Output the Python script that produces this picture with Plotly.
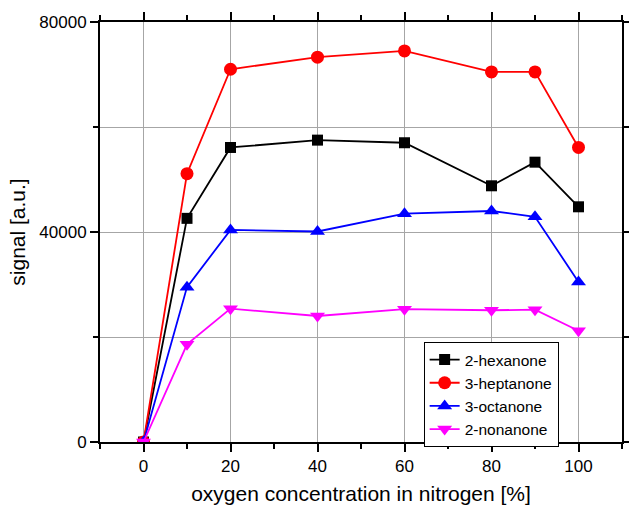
import plotly.graph_objects as go

x = [0, 10, 20, 40, 60, 80, 90, 100]
hexanone = [0, 42600, 56100, 57500, 57000, 48800, 53300, 44800]
heptanone = [0, 51100, 71000, 73300, 74500, 70500, 70500, 56100]
octanone = [0, 29500, 40400, 40100, 43500, 44000, 42900, 30500]
nonanone = [0, 18600, 25400, 24000, 25300, 25100, 25200, 21200]
x_ticks = [0, 20, 40, 60, 80, 100]
y_ticks = [0, 40000, 80000]
y_tick_labels = ["0", "40000", "80000"]

series = [
    ("2-hexanone", hexanone, "black", "square", 11),
    ("3-heptanone", heptanone, "red", "circle", 13),
    ("3-octanone", octanone, "blue", "triangle-up", 13),
    ("2-nonanone", nonanone, "magenta", "triangle-down", 13),
]

FONT = "Liberation Sans, Arial"

fig = go.Figure()
for name, vals, col, sym, sz in series:
    fig.add_trace(go.Scatter(
        x=x, y=vals, name=name, mode="lines+markers",
        line=dict(color=col, width=1.8),
        marker=dict(symbol=sym, size=sz, color=col),
    ))

axis_common = dict(
    showline=True, linecolor="black", linewidth=2, mirror="ticks",
    ticks="outside", ticklen=8, tickwidth=1.5, tickcolor="black",
    gridcolor="#a6a6a6", gridwidth=1, zeroline=False, automargin=False,
    tickfont=dict(family=FONT, size=17, color="black"),
)

fig.update_xaxes(
    range=[-10, 110], tickvals=x_ticks, showgrid=True,
    minor=dict(dtick=10, tick0=0, ticks="outside", ticklen=5, tickcolor="black", tickwidth=1.5, showgrid=False),
    title=dict(text="oxygen concentration in nitrogen [%]",
               font=dict(family=FONT, size=21, color="black"), standoff=12),
    **axis_common,
)
fig.update_yaxes(
    range=[0, 80000], tickvals=y_ticks, ticktext=y_tick_labels, showgrid=True,
    minor=dict(dtick=20000, tick0=0, ticks="outside", ticklen=5, tickcolor="black", tickwidth=1.5,
               showgrid=True, gridcolor="#a6a6a6", gridwidth=1),
    title=dict(text="signal [a.u.]",
               font=dict(family=FONT, size=21, color="black"), standoff=8),
    **axis_common,
)

fig.update_layout(
    width=629, height=505,
    margin=dict(l=100, r=7, t=22, b=63, autoexpand=False),
    paper_bgcolor="white", plot_bgcolor="white",
    font=dict(family=FONT, color="black"),
    legend=dict(
        x=0.62, y=0.238, xanchor="left", yanchor="top",
        bgcolor="white", bordercolor="black", borderwidth=1,
        font=dict(size=15.5, family=FONT, color="black"),
        tracegroupgap=0, itemwidth=30,
    ),
)

fig.write_html("out.html", config={"displayModeBar": False},
               post_script="document.body.style.margin='0';")
